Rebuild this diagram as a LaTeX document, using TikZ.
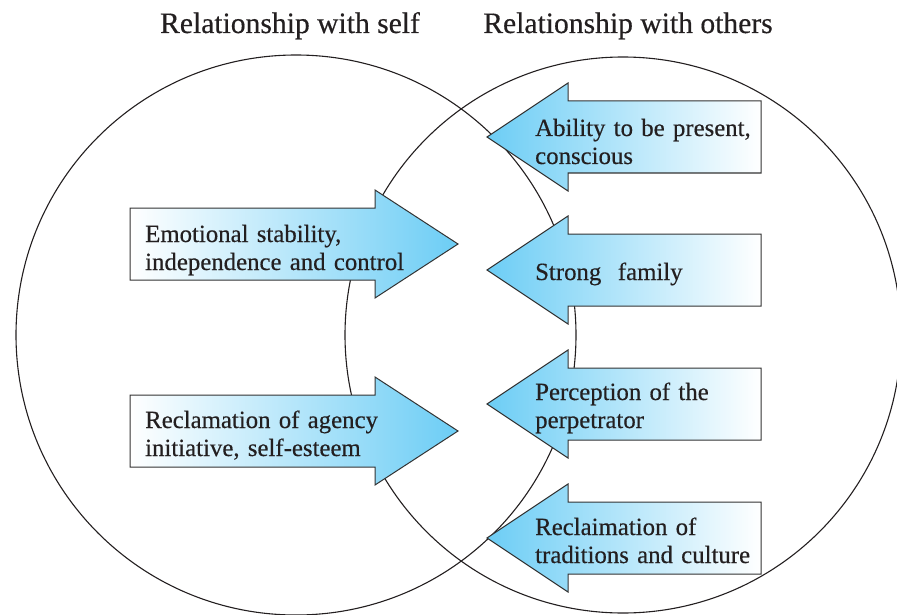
\documentclass[tikz,border=0pt]{standalone}
\usepackage{fontspec}
\setmainfont{Liberation Serif}[FakeBold=0.4]
\newfontfamily\heavyserif{Liberation Serif}[FakeBold=0.4]
\definecolor{sky}{HTML}{6CCDF5}
\definecolor{ink}{HTML}{231F20}
\definecolor{edge}{HTML}{333333}
\begin{document}
\begin{tikzpicture}[x=1pt,y=-1pt,
  circ/.style={draw=ink,line width=1.1pt},
  rarr/.style={left color=white,right color=sky,draw=edge,line width=1pt},
  larr/.style={left color=sky,right color=white,draw=edge,line width=1pt},
  lbl/.style={anchor=base west,inner sep=0pt,text width=320pt,align=left,text=ink,
    font=\heavyserif\fontsize{24.8}{28}\selectfont},
  ttl/.style={anchor=base,inner sep=0pt,text=ink,font=\heavyserif\fontsize{29.6}{34}\selectfont}]
\useasboundingbox (0,0) rectangle (897,615);
\begin{scope}
\clip (0,0) rectangle (897,615);
\draw[circ] (296,335) circle[radius=280];
\draw[circ] (623,335) circle[radius=278];
\end{scope}
% titles
\node[ttl] (tself) at (290,33) {Relationship with self};
\node[ttl] (tothers) at (628,33) {Relationship with others};
% left arrows (pointing right)
\shadedraw[rarr] (130,208)--(375,208)--(375,190)--(458,244)--(375,298)--(375,280)--(130,280)--cycle;
\shadedraw[rarr] (130,395)--(375,395)--(375,377)--(458,431)--(375,485)--(375,467)--(130,467)--cycle;
% right arrows (pointing left)
\shadedraw[larr] (761,101)--(568,101)--(568,83)--(487,137)--(568,191)--(568,173)--(761,173)--cycle;
\shadedraw[larr] (761,234)--(568,234)--(568,216)--(487,270)--(568,324)--(568,306)--(761,306)--cycle;
\shadedraw[larr] (761,368)--(568,368)--(568,350)--(487,404)--(568,458)--(568,440)--(761,440)--cycle;
\shadedraw[larr] (761,502)--(568,502)--(568,484)--(487,538)--(568,592)--(568,574)--(761,574)--cycle;
% labels
\node[lbl] (l1) at (145,242) {Emotional stability,\\independence and control};
\node[lbl] (l2) at (145,428) {Reclamation of agency\\initiative, self-esteem};
\node[lbl] (r1) at (535,136) {Ability to be present,\\conscious};
\node[lbl] (r2) at (535,280) {Strong\ \ family};
\node[lbl] (r3) at (535,400) {Perception of the\\perpetrator};
\node[lbl] (r4) at (535,535) {Reclaimation of\\traditions and culture};
\end{tikzpicture}
\end{document}
